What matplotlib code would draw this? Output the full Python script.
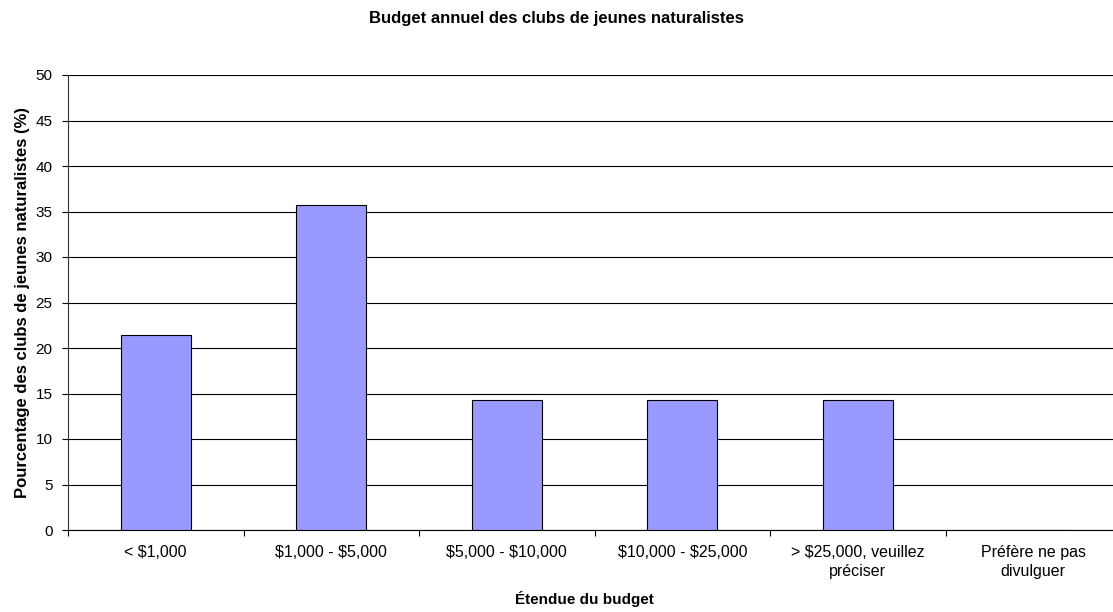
import matplotlib.pyplot as plt
import numpy as np

plt.rcParams['font.family'] = ['Liberation Sans', 'DejaVu Sans']
plt.rcParams['text.parse_math'] = False

categories = ["< $1,000", "$1,000 - $5,000", "$5,000 - $10,000", "$10,000 - $25,000",
              "> $25,000, veuillez\npréciser", "Préfère ne pas\ndivulguer"]
values = [21.4, 35.7, 14.3, 14.3, 14.3, 0.0]

fig = plt.figure(figsize=(11.13, 6.12), dpi=100)
# plot area runs a little past the right edge of the picture, as in the original
ax = fig.add_axes([68/1113, 1-530/612, (1121-68)/1113, (530-75)/612])

x = np.arange(len(categories))
ax.bar(x, values, width=0.4, color="#9999FF", edgecolor="black", linewidth=0.8, zorder=3)

ax.set_xlim(-0.5, len(categories)-0.5)
ax.set_ylim(0, 50)
ax.set_yticks(np.arange(0, 51, 5))
ax.yaxis.grid(True, color="black", linewidth=0.8, zorder=0)
ax.set_axisbelow(True)

# ticks between categories, labels centred
ax.set_xticks(np.arange(-0.5, len(categories), 1))
ax.set_xticklabels([])
ax.set_xticks(x, minor=True)
ax.set_xticklabels(categories, minor=True, fontsize=11.5, linespacing=1.35)
ax.tick_params(axis='x', which='minor', length=0, pad=11)
ax.tick_params(axis='x', which='major', length=4, direction='out')
ax.tick_params(axis='y', length=4, direction='out', labelsize=11, pad=7)

for s in ["top", "right"]:
    ax.spines[s].set_visible(False)
ax.spines["left"].set_color("#333333")
ax.spines["bottom"].set_color("black")

ax.set_ylabel("Pourcentage des clubs de jeunes naturalistes (%)", fontsize=12, fontweight="bold", labelpad=4)
fig.text(584/1113, 1-599/612, "Étendue du budget", ha="center", va="center",
         fontsize=11, fontweight="bold")
fig.text(0.5, 1-19/612, "Budget annuel des clubs de jeunes naturalistes", ha="center", va="center",
         fontsize=12, fontweight="bold")

plt.savefig("out.png", dpi=100)
